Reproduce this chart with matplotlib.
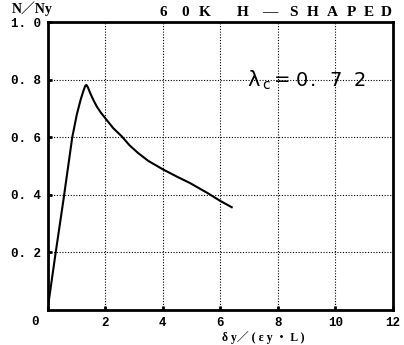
import numpy as np
import matplotlib
matplotlib.use("Agg")
import matplotlib.pyplot as plt

# load-displacement curve (normalised)
disp = [0.0, 0.27, 0.55, 0.86, 1.02, 1.15, 1.25, 1.31, 1.35,
        1.40, 1.48, 1.60, 1.71, 1.85, 2.00, 2.28, 2.58, 2.85,
        3.15, 3.50, 4.00, 4.50, 4.95, 5.58, 6.00, 6.40]
load = [0.0, 0.19, 0.38, 0.60, 0.68, 0.73, 0.762, 0.778, 0.782,
        0.774, 0.754, 0.728, 0.707, 0.686, 0.667, 0.632, 0.603, 0.572,
        0.545, 0.518, 0.489, 0.463, 0.441, 0.405, 0.379, 0.357]

xticks = [0, 2, 4, 6, 8, 10, 12]
xtick_labels = ["", "2", "4", "6", "8", "10", "12"]
yticks = [0.2, 0.4, 0.6, 0.8, 1.0]
ytick_labels = ["0. 2", "0. 4", "0. 6", "0. 8", "1. 0"]

titre = ["6", "0", "K", "H", "—", "S", "H", "A", "P", "E", "D"]
titre_x = [163, 185, 205, 243, 270, 293, 313, 332, 351, 369, 386]

# lambda_c = 0.72, written out glyph by glyph
lam = ["λ", "c", "=", "0", ".", "7", "2"]
lam_x = [254, 266, 282, 302, 313, 336, 360]
lam_dy = [0, 5, 0, 0, 0, 0, 0]
lam_fs = [15, 10, 14, 14, 14, 14, 14]

mono = ["Liberation Mono", "Noto Sans CJK JP"]
serif = ["Liberation Serif", "Noto Sans CJK JP"]

fig = plt.figure(figsize=(4.04, 3.45), dpi=100)
ax = fig.add_axes([0.1176, 0.1014, 0.855, 0.8346])

ax.plot(disp, load, color="black", linewidth=1.5)

ax.set_xlim(0, 12)
ax.set_ylim(0, 1.0)
ax.set_xticks(xticks)
ax.set_xticklabels(xtick_labels, family=mono, weight="bold", fontsize=9)
ax.set_yticks(yticks)
ax.set_yticklabels(ytick_labels, family=mono, weight="bold", fontsize=9)
ax.tick_params(direction="in", length=3, width=2, pad=5)
ax.grid(True, color="black", linestyle=(0, (1, 1.5)), linewidth=0.8)
for s in ax.spines.values():
    s.set_linewidth(2)

fig.text(35 / 404, 1 - 322 / 345, "0", family=mono, weight="bold",
         fontsize=9, ha="center", va="center")
fig.text(12 / 404, 1 - 9 / 345, "N／Ny", family=serif, weight="bold",
         fontsize=10, ha="left", va="center")
for c, px in zip(titre, titre_x):
    fig.text(px / 404, 1 - 13 / 345, c, family=serif, weight="bold",
             fontsize=11, ha="center", va="center")
fig.text(263 / 404, 1 - 337 / 345, "δ y／ ( ε y ・ L )", family=serif,
         weight="bold", fontsize=8.5, ha="center", va="center")
for c, px, dy, fs in zip(lam, lam_x, lam_dy, lam_fs):
    fig.text(px / 404, 1 - (80 + dy) / 345, c, family="DejaVu Sans",
             fontsize=fs, ha="center", va="center")

fig.savefig("out.png", dpi=100)
